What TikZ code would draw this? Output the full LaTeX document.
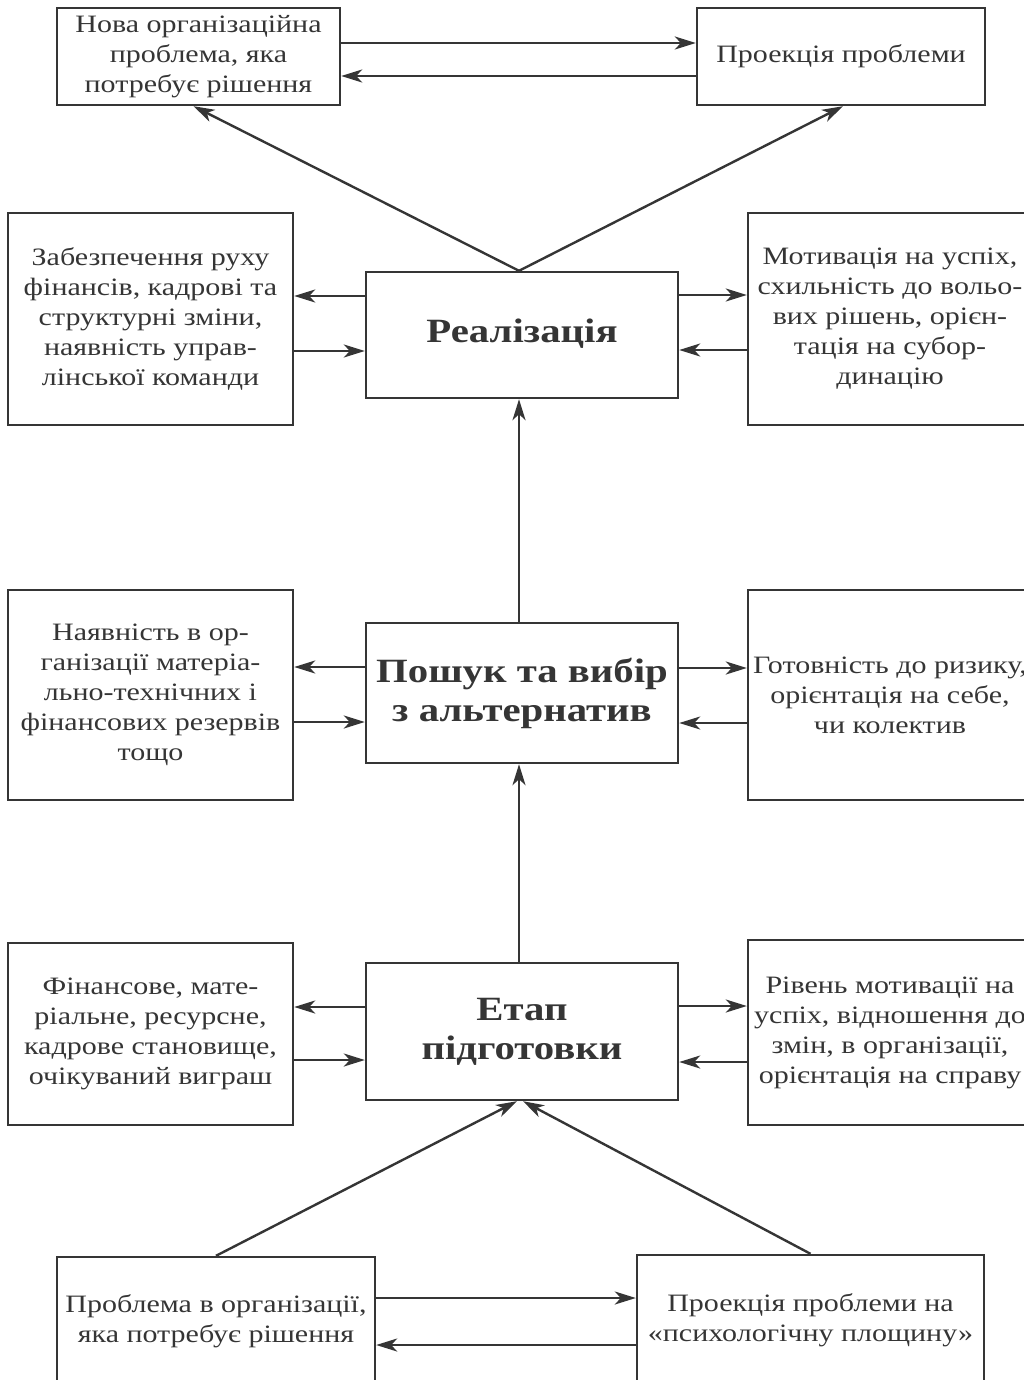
\documentclass[tikz,border=0pt]{standalone}
\usepackage{fontspec}
\setmainfont{Liberation Serif}[FakeStretch=1.2]
\usetikzlibrary{arrows.meta}
\definecolor{ink}{HTML}{353535}
\begin{document}
\begin{tikzpicture}[x=1pt,y=-1pt,
  box/.style={draw=ink, line width=2.4pt, inner sep=0pt, align=center, text=ink,
    font=\fontsize{25}{30}\selectfont},
  titlebox/.style={box, font=\fontsize{34}{39}\selectfont\bfseries},
  arr/.style={draw=ink, line width=2.4pt, -{Stealth[length=21pt,width=13pt,inset=6pt]}}]
\useasboundingbox (0,0) rectangle (1024,1380);
\clip (0,0) rectangle (1024,1380);
% top row
\node[box, minimum width=283pt, minimum height=97pt] (tl) at (198.5,56.5)
  {Нова організаційна\\проблема, яка\\потребує рішення};
\node[box, minimum width=288pt, minimum height=97pt] (tr) at (841,56.5)
  {Проекція проблеми};
% row 1
\node[box, minimum width=285pt, minimum height=212pt] (zab) at (150.5,319)
  {Забезпечення руху\\фінансів, кадрові та\\структурні зміни,\\наявність управ-\\лінської команди};
\node[titlebox, minimum width=312pt, minimum height=126pt] (real) at (522,335)
  {\raisebox{8pt}{Реалізація}};
\node[box, minimum width=284pt, minimum height=212pt] (mot) at (890,319)
  {Мотивація на успіх,\\схильність до вольо-\\вих рішень, орієн-\\тація на субор-\\динацію};
% row 2
\node[box, minimum width=285pt, minimum height=210pt] (nay) at (150.5,695)
  {Наявність в ор-\\ганізації матеріа-\\льно-технічних і\\фінансових резервів\\тощо};
\node[titlebox, minimum width=312pt, minimum height=140pt] (posh) at (522,693)
  {Пошук та вибір\\з альтернатив};
\node[box, minimum width=284pt, minimum height=210pt] (got) at (890,695)
  {Готовність до ризику,\\орієнтація на себе,\\чи колектив};
% row 3
\node[box, minimum width=285pt, minimum height=182pt] (fin) at (150.5,1034)
  {Фінансове, мате-\\ріальне, ресурсне,\\кадрове становище,\\очікуваний виграш};
\node[titlebox, minimum width=312pt, minimum height=137pt] (etap) at (522,1031.5)
  {Етап\\підготовки};
\node[box, minimum width=284pt, minimum height=185pt] (riv) at (890,1032.5)
  {Рівень мотивації на\\успіх, відношення до\\змін, в організації,\\орієнтація на справу};
% bottom row
\node[box, minimum width=318pt, minimum height=128pt] (prob) at (216,1321)
  {Проблема в організації,\\яка потребує рішення};
\node[box, minimum width=347pt, minimum height=130pt] (proj) at (810.5,1320)
  {Проекція проблеми на\\«психологічну площину»};
% top arrows
\draw[arr] (tl.east |- 0,43) -- (tr.west |- 0,43);
\draw[arr] (tr.west |- 0,76) -- (tl.east |- 0,76);
\draw[arr] ([xshift=-3pt]real.north) -- ([xshift=-5pt]tl.south);
\draw[arr] ([xshift=-3pt]real.north) -- ([xshift=2pt]tr.south);
% row 1 arrows
\draw[arr] (real.west |- 0,296) -- (zab.east |- 0,296);
\draw[arr] (zab.east |- 0,351) -- (real.west |- 0,351);
\draw[arr] (real.east |- 0,295) -- (mot.west |- 0,295);
\draw[arr] (mot.west |- 0,350) -- (real.east |- 0,350);
% row 2 arrows
\draw[arr] ([xshift=-3pt]posh.north) -- ([xshift=-3pt]real.south);
\draw[arr] (posh.west |- 0,667) -- (nay.east |- 0,667);
\draw[arr] (nay.east |- 0,722) -- (posh.west |- 0,722);
\draw[arr] (posh.east |- 0,668) -- (got.west |- 0,668);
\draw[arr] (got.west |- 0,723) -- (posh.east |- 0,723);
% row 3 arrows
\draw[arr] ([xshift=-3pt]etap.north) -- ([xshift=-3pt]posh.south);
\draw[arr] (etap.west |- 0,1007) -- (fin.east |- 0,1007);
\draw[arr] (fin.east |- 0,1060) -- (etap.west |- 0,1060);
\draw[arr] (etap.east |- 0,1006) -- (riv.west |- 0,1006);
\draw[arr] (riv.west |- 0,1062) -- (etap.east |- 0,1062);
% bottom arrows
\draw[arr] (prob.north) -- ([xshift=-5pt]etap.south);
\draw[arr] (proj.north) -- ([xshift=1pt]etap.south);
\draw[arr] (prob.east |- 0,1298) -- (proj.west |- 0,1298);
\draw[arr] (proj.west |- 0,1345) -- (prob.east |- 0,1345);
\end{tikzpicture}
\end{document}
